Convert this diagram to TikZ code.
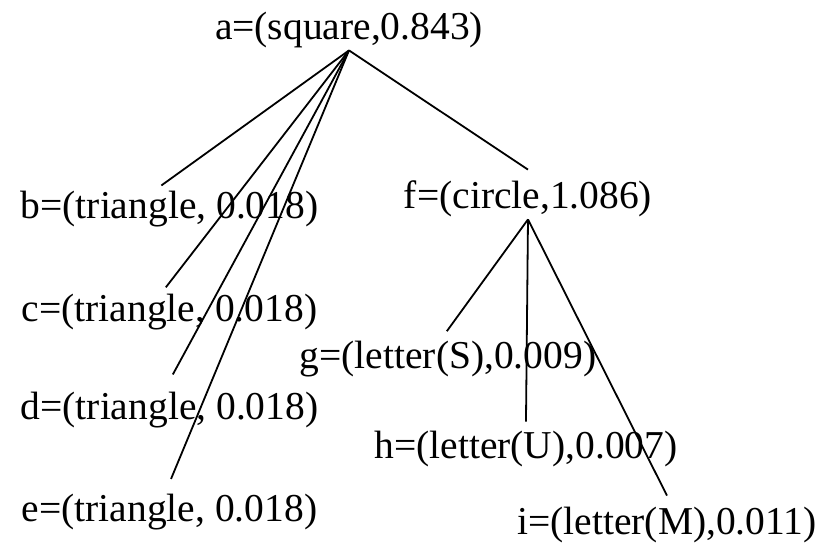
\documentclass[tikz,border=0pt]{standalone}
\usepackage{fontspec}
\setmainfont{Liberation Serif}
\usepackage{tikz}
\tikzset{
  treenode/.style={inner sep=0pt, anchor=base, text height=19pt, text depth=5.5pt,
    font=\fontsize{19.75}{23}\selectfont},
  branch/.style={draw=black, line width=0.9pt},
}

\begin{document}
\begin{tikzpicture}[x=0.5pt, y=-0.5pt]
    \useasboundingbox (0,0) rectangle (826,547);
    \node[treenode] (a) at (349,39) {a=(square,0.843)};
    \node[treenode] (b) at (169.5,218) {b=(triangle, 0.018)};
    \node[treenode] (c) at (169.5,321) {c=(triangle, 0.018)};
    \node[treenode] (d) at (169.5,419) {d=(triangle, 0.018)};
    \node[treenode] (e) at (169.5,521) {e=(triangle, 0.018)};
    \node[treenode] (f) at (528,208) {f=(circle,1.086)};
    \node[treenode] (g) at (448,368) {g=(letter(S),0.009)};
    \node[treenode] (h) at (526,458) {h=(letter(U),0.007)};
    \node[treenode] (i) at (667,534) {i=(letter(M),0.011)};
    % branches of a
    \draw[branch, shorten >=-5pt] (a.south) -- (b.north);
    \draw[branch, shorten >=-3pt] (a.south) -- (c.north);
    \draw[branch, shorten >=3.5pt] (a.south) -- (d.north);
    \draw[branch, shorten >=2pt] (a.south) -- (e.north);
    \draw[branch] (a.south) -- (f.north);
    % branches of f
    \draw[branch, shorten >=-1pt] (f.south) -- (g.north);
    \draw[branch, shorten >=-1pt] (f.south) -- (h.north);
    \draw[branch] (f.south) -- (i.north);
  \end{tikzpicture}
\end{document}
